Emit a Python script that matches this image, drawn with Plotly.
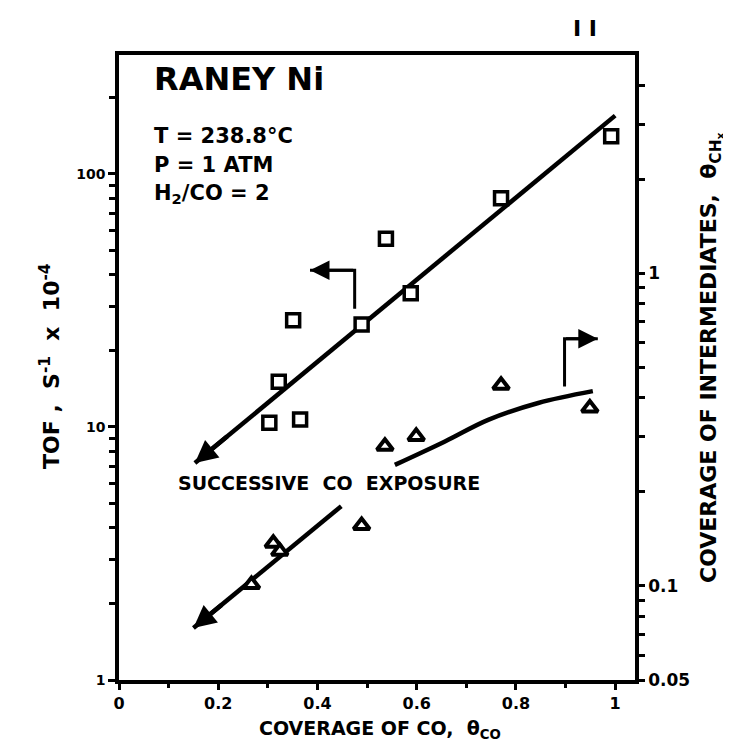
import numpy as np
import plotly.graph_objects as go

# ---- data ----
# open squares: TOF (left axis, x 10^-4 s^-1)
tof_x = [0.303, 0.322, 0.351, 0.365, 0.489, 0.538, 0.588, 0.770, 0.992]
tof_y = [10.4, 15.1, 26.4, 10.7, 25.4, 55.4, 33.8, 80.2, 141]

# open triangles: coverage of intermediates theta_CHx (right axis)
chx_x = [0.267, 0.311, 0.324, 0.489, 0.536, 0.599, 0.770, 0.949]
chx_y = [0.101, 0.137, 0.129, 0.156, 0.280, 0.301, 0.439, 0.371]

# drawn trend lines
tof_fit_x = [0.153, 1.0]
tof_fit_y = [7.2, 170]
chx_fit_low_x = [0.150, 0.448]
chx_fit_low_y = [0.0733, 0.180]
chx_fit_up_x = [0.556, 0.657, 0.744, 0.845, 0.955]
chx_fit_up_y = [0.244, 0.290, 0.340, 0.385, 0.420]

# axis-pointer arrows
left_ptr_x = [0.475, 0.475, 0.385]
left_ptr_y = [29.3, 41.6, 41.6]
right_ptr_x = [0.898, 0.898, 0.965]
right_ptr_y = [0.435, 0.618, 0.618]

# tick labels
x_ticks = [0, 0.2, 0.4, 0.6, 0.8, 1]
x_ticktext = ["0", "0.2", "0.4", "0.6", "0.8", "1"]
y_ticks = [1, 10, 100]
y_ticktext = ["1", "10", "100"]
y2_ticks = [0.05, 0.1, 1]
y2_ticktext = ["0.05", "0.1", "1"]

FONT = "DejaVu Sans"
BLACK = "black"


def bold(labels):
    return ["<b>%s</b>" % s for s in labels]


fig = go.Figure()

fig.add_trace(go.Scatter(x=tof_fit_x, y=tof_fit_y, mode="lines",
                         line=dict(color=BLACK, width=4.5), showlegend=False))
fig.add_trace(go.Scatter(x=left_ptr_x, y=left_ptr_y, mode="lines",
                         line=dict(color=BLACK, width=3), showlegend=False))
fig.add_trace(go.Scatter(x=tof_x, y=tof_y, mode="markers",
                         marker=dict(symbol="square", size=13, color="white",
                                     line=dict(color=BLACK, width=3.5)),
                         showlegend=False))

fig.add_trace(go.Scatter(x=chx_fit_low_x, y=chx_fit_low_y, mode="lines", yaxis="y2",
                         line=dict(color=BLACK, width=4.5), showlegend=False))
fig.add_trace(go.Scatter(x=chx_fit_up_x, y=chx_fit_up_y, mode="lines", yaxis="y2",
                         line=dict(color=BLACK, width=4.5, shape="spline"),
                         showlegend=False))
fig.add_trace(go.Scatter(x=right_ptr_x, y=right_ptr_y, mode="lines", yaxis="y2",
                         line=dict(color=BLACK, width=3), showlegend=False))
fig.add_trace(go.Scatter(x=chx_x, y=chx_y, mode="markers", yaxis="y2",
                         marker=dict(symbol="triangle-up", size=14, color="white",
                                     line=dict(color=BLACK, width=4)),
                         showlegend=False))

annotations = []


def arrow(xs, ys, yref, i_tip, i_tail, frac=1.0, width=3, size=1.0):
    lx = np.array(xs, dtype=float)
    ly = np.log10(np.array(ys, dtype=float))
    tx, ty = lx[i_tip], ly[i_tip]
    bx = tx + (lx[i_tail] - tx) * frac
    by = ty + (ly[i_tail] - ty) * frac
    annotations.append(dict(x=tx, y=ty, xref="x", yref=yref, ax=bx, ay=by,
                            axref="x", ayref=yref, text="", showarrow=True,
                            arrowhead=2, arrowsize=size, arrowwidth=width,
                            arrowcolor=BLACK))


arrow(tof_fit_x, tof_fit_y, "y", 0, 1, frac=0.08, width=4.5, size=1.0)
arrow(chx_fit_low_x, chx_fit_low_y, "y2", 0, 1, frac=0.2, width=4.5, size=1.0)
arrow(left_ptr_x, left_ptr_y, "y", 2, 1, frac=1.0, width=3, size=1.3)
arrow(right_ptr_x, right_ptr_y, "y2", 2, 1, frac=1.0, width=3, size=1.3)


def txt(text, x, y, size, xanchor="left", yanchor="middle", angle=0, xref="paper", yref="paper"):
    annotations.append(dict(text="<b>%s</b>" % text, x=x, y=y, xref=xref, yref=yref,
                            showarrow=False, xanchor=xanchor, yanchor=yanchor, textangle=angle,
                            font=dict(family=FONT, size=size, color=BLACK)))


# plot area in px: x 111..627, y 47..672
def px(xp):
    return (xp - 111) / 516.0


def py(yp):
    return (672 - yp) / 625.0


txt("RANEY Ni", px(144), py(71), 32)
txt("T = 238.8°C", px(144), py(128), 21)
txt("P = 1 ATM", px(144), py(157), 21)
txt("H<sub>2</sub>/CO = 2", px(144), py(186), 21)
txt("SUCCESSIVE  CO  EXPOSURE", px(168), py(475), 19)
txt("COVERAGE OF CO,  θ<sub>CO</sub>", px(372), py(721), 19, xanchor="center")
txt("TOF ,  S<sup>-1</sup>  x  10<sup>-4</sup>", px(42), py(358), 22, xanchor="center", angle=-90)
txt("COVERAGE OF INTERMEDIATES,  θ<sub>CH<sub>x</sub></sub>", px(703), py(350), 22,
    xanchor="center", angle=-90)
txt("I I", px(577), py(20), 22, xanchor="center")

fig.update_layout(
    width=731, height=744, autosize=False,
    margin=dict(l=111, r=104, t=47, b=72),
    plot_bgcolor="white", paper_bgcolor="white",
    font=dict(family=FONT, color=BLACK),
    annotations=annotations,
    xaxis=dict(range=[0, 1.04], tickvals=x_ticks, ticktext=bold(x_ticktext),
               ticks="outside", ticklen=6, tickwidth=3, tickcolor=BLACK,
               showline=True, linewidth=4, linecolor=BLACK, mirror=True,
               showgrid=False, zeroline=False,
               tickfont=dict(family=FONT, size=16, color=BLACK),
               minor=dict(tickvals=[0.1, 0.3, 0.5, 0.7, 0.9], ticks="outside",
                          ticklen=4, tickwidth=3, tickcolor=BLACK)),
    yaxis=dict(type="log", range=[0, 2.47], tickvals=y_ticks, ticktext=bold(y_ticktext),
               ticks="outside", ticklen=7, tickwidth=2.5, tickcolor=BLACK,
               showline=True, linewidth=3.5, linecolor=BLACK,
               showgrid=False, zeroline=False,
               tickfont=dict(family=FONT, size=14, color=BLACK),
               minor=dict(tickvals=[2, 3, 4, 5, 6, 7, 8, 9, 20, 30, 40, 50, 60, 70, 80, 90, 200],
                          ticks="outside", ticklen=6, tickwidth=2.5, tickcolor=BLACK)),
    yaxis2=dict(type="log", overlaying="y", side="right",
                range=[np.log10(0.05), np.log10(5)], tickvals=y2_ticks,
                ticktext=bold(y2_ticktext),
                ticks="outside", ticklen=6, tickwidth=2.5, tickcolor=BLACK,
                showline=True, linewidth=3.5, linecolor=BLACK,
                showgrid=False, zeroline=False,
                tickfont=dict(family=FONT, size=17, color=BLACK),
                minor=dict(tickvals=[0.06, 0.07, 0.08, 0.09, 0.2, 0.3, 0.4, 0.5, 0.6, 0.7,
                                     0.8, 0.9, 2, 3, 4],
                           ticks="outside", ticklen=6, tickwidth=2.5, tickcolor=BLACK)),
)

fig.write_html("out.html")
